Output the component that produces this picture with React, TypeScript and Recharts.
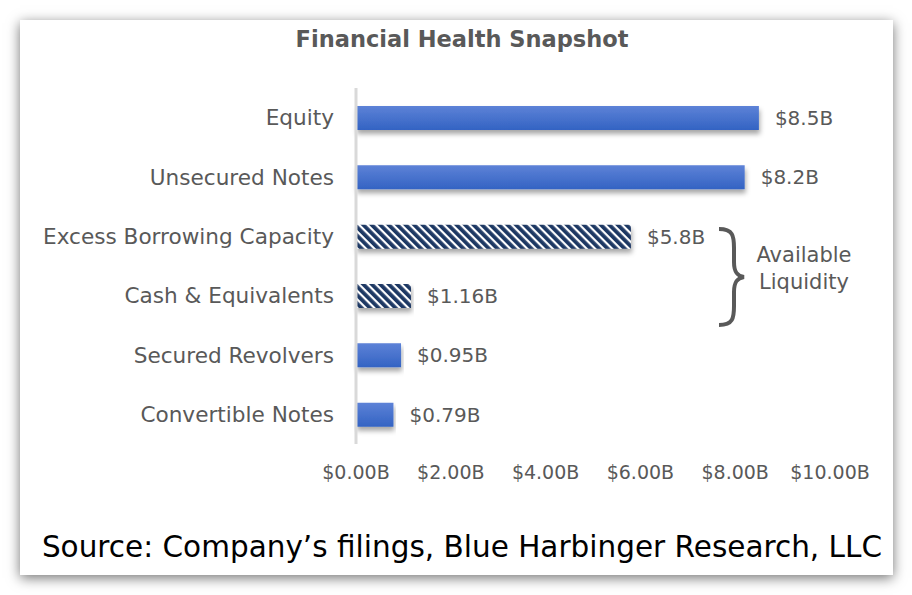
import React from 'react';
import { BarChart, Bar, XAxis, YAxis, Cell, LabelList } from 'recharts';

const categories = [
  'Equity',
  'Unsecured Notes',
  'Excess Borrowing Capacity',
  'Cash & Equivalents',
  'Secured Revolvers',
  'Convertible Notes',
];
const amounts = [8.5, 8.2, 5.8, 1.16, 0.95, 0.79];
const liquidity = [false, false, true, true, false, false];
const xTicks = [0, 2, 4, 6, 8, 10];

const data = categories.map((name, i) => ({ name, value: amounts[i], hatched: liquidity[i] }));

const FONT = '"DejaVu Sans", sans-serif';
const GRAY = '#595959';

export default function App() {
  return (
    <div style={{ position: 'absolute', left: 0, top: 0, width: 912, height: 595, background: '#fff', fontFamily: FONT }}>
      {/* card */}
      <div
        style={{
          position: 'absolute',
          left: 20,
          top: 20,
          width: 873,
          height: 555,
          background: '#fff',
          boxShadow: '0 3px 12px rgba(0,0,0,0.55)',
        }}
      />
      <div
        style={{
          position: 'absolute',
          left: 0,
          width: 924,
          top: 26,
          textAlign: 'center',
          fontSize: 22.5,
          fontWeight: 'bold',
          color: GRAY,
        }}
      >
        Financial Health Snapshot
      </div>

      <div style={{ position: 'absolute', left: 0, top: 0 }}>
        <BarChart
          width={912}
          height={595}
          data={data}
          layout="vertical"
          margin={{ top: 88, right: 82, bottom: 121, left: 0 }}
          barSize={24}
        >
          <defs>
            <linearGradient id="blueGrad" x1="0" y1="0" x2="0" y2="1">
              <stop offset="0%" stopColor="#5d82d7" />
              <stop offset="100%" stopColor="#3363c3" />
            </linearGradient>
            <pattern id="hatch" width="6" height="6" patternUnits="userSpaceOnUse" patternTransform="rotate(-45)">
              <rect x="0" y="0" width="6" height="6" fill="#ffffff" />
              <rect x="0" y="0" width="3.8" height="6" fill="#1f3864" />
            </pattern>
            <filter id="barShadow" x="-5%" y="-30%" width="110%" height="190%">
              <feDropShadow dx="1" dy="4" stdDeviation="2.5" floodColor="#000" floodOpacity="0.35" />
            </filter>
          </defs>
          <XAxis
            type="number"
            domain={[0, 10]}
            ticks={xTicks}
            axisLine={false}
            tickLine={false}
            tickSize={0}
            tickMargin={22}
            tickFormatter={(v: number) => `$${v.toFixed(2)}B`}
            tick={{ fill: GRAY, fontSize: 19, fontFamily: FONT }}
          />
          <YAxis
            type="category"
            dataKey="name"
            width={356}
            axisLine={{ stroke: '#d9d9d9', strokeWidth: 3 }}
            tickLine={false}
            tickSize={0}
            tickMargin={22}
            tick={{ fill: GRAY, fontSize: 21.6, fontFamily: FONT }}
          />
          <Bar dataKey="value" isAnimationActive={false} filter="url(#barShadow)">
            {data.map((d, i) => (
              <Cell key={`c-${i}`} fill={d.hatched ? 'url(#hatch)' : 'url(#blueGrad)'} />
            ))}
            <LabelList
              dataKey="value"
              position="right"
              offset={16}
              formatter={(v: any) => `$${v}B`}
              style={{ fill: GRAY, fontSize: 20, fontFamily: FONT }}
            />
          </Bar>
        </BarChart>
      </div>

      {/* Available liquidity brace */}
      <svg style={{ position: 'absolute', left: 0, top: 0 }} width={912} height={595}>
        <path
          d="M719 229 C733 229 734 236 734 248 L734 262 C734 272 737 276 744 277 C737 278 734 282 734 292 L734 306 C734 318 733 325 719 325"
          fill="none"
          stroke={GRAY}
          strokeWidth={4}
        />
      </svg>
      <div
        style={{
          position: 'absolute',
          left: 744,
          width: 120,
          top: 242,
          textAlign: 'center',
          fontSize: 21,
          lineHeight: '27px',
          color: GRAY,
        }}
      >
        Available
        <br />
        Liquidity
      </div>

      <div
        style={{
          position: 'absolute',
          left: 0,
          width: 924,
          top: 530,
          textAlign: 'center',
          fontSize: 29.5,
          color: '#000',
        }}
      >
        Source: Company’s filings, Blue Harbinger Research, LLC
      </div>
    </div>
  );
}
